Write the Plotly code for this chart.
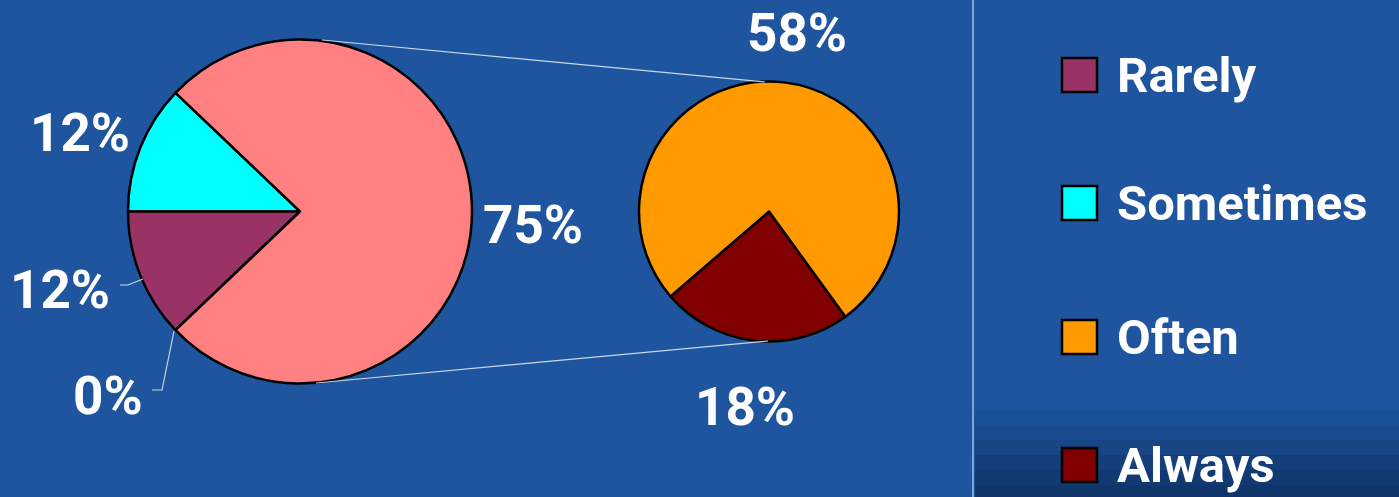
import plotly.graph_objects as go

# ---- data ----
main_labels = ["Sometimes", "Rarely", "", "Other"]
main_values = [12, 12, 0, 75]
main_colors = ["#00FFFF", "#993366", "#CCCCCC", "#FF8080"]

sub_labels = ["Always", "Often"]
sub_values = [18, 58]
sub_colors = ["#800000", "#FF9900"]

legend_labels = ["Rarely", "Sometimes", "Often", "Always"]
legend_colors = ["#993366", "#00FFFF", "#FF9900", "#800000"]

W, H = 1399, 497
BG = "#1e559e"

def px(x):
    return x / W

def py(y):
    return 1 - y / H

fig = go.Figure()

# main pie: center (300, 211.5), r 172
fig.add_trace(go.Pie(
    labels=main_labels, values=main_values, sort=False,
    direction="counterclockwise", rotation=-90,
    marker=dict(colors=main_colors, line=dict(color="black", width=2.5)),
    textinfo="none", hoverinfo="label+percent", showlegend=False,
    domain=dict(x=[px(128), px(472)], y=[py(383.5), py(39.5)]),
))

# secondary pie: center (769, 211.5), r 130
fig.add_trace(go.Pie(
    labels=sub_labels, values=sub_values, sort=False,
    direction="counterclockwise", rotation=-216,
    marker=dict(colors=sub_colors, line=dict(color="black", width=2.5)),
    textinfo="none", hoverinfo="label+percent", showlegend=False,
    domain=dict(x=[px(639), px(899)], y=[py(341.5), py(81.5)]),
))

shapes = []
line_col = "rgba(220,230,240,0.9)"
# darker band bottom-right (gradient steps)
for y0, y1, a in [(410, 425, 0.08), (425, 440, 0.16), (440, 455, 0.26),
                  (455, 470, 0.36), (470, 485, 0.45), (485, 497, 0.52)]:
    shapes.append(dict(type="rect", xref="paper", yref="paper", layer="below",
                       x0=px(975), y0=py(y1), x1=1, y1=py(y0),
                       fillcolor=f"rgba(3,25,60,{a})", line=dict(width=0)))
# connector lines
shapes.append(dict(type="line", xref="paper", yref="paper",
                   x0=px(322), y0=py(40), x1=px(765), y1=py(82),
                   line=dict(color=line_col, width=1.2)))
shapes.append(dict(type="line", xref="paper", yref="paper",
                   x0=px(316), y0=py(383), x1=px(768), y1=py(341),
                   line=dict(color=line_col, width=1.2)))
# leader lines
shapes.append(dict(type="path", xref="paper", yref="paper",
                   path=f"M {px(120)} {py(285)} L {px(128)} {py(285)} L {px(143)} {py(279)}",
                   line=dict(color=line_col, width=1.2)))
shapes.append(dict(type="path", xref="paper", yref="paper",
                   path=f"M {px(152)} {py(390)} L {px(162)} {py(390)} L {px(174)} {py(331)}",
                   line=dict(color=line_col, width=1.2)))
# separator line
shapes.append(dict(type="line", xref="paper", yref="paper",
                   x0=px(973), y0=0, x1=px(973), y1=1,
                   line=dict(color="rgba(200,215,235,0.8)", width=1.5)))

annotations = []
lab_font = dict(family="Roboto", size=53, color="white")

def pct(v):
    return f"<b>{v}%</b>"

# main pie labels: Sometimes, Rarely, blank, Other
main_pos = [(80, 133), (60, 290), (108, 396), (533, 225)]
for v, (x, y) in zip(main_values, main_pos):
    annotations.append(dict(text=pct(v), x=px(x), y=py(y), xref="paper", yref="paper",
                            showarrow=False, font=lab_font, xanchor="center", yanchor="middle"))
sub_pos = [(745, 407), (797, 33)]
for v, (x, y) in zip(sub_values, sub_pos):
    annotations.append(dict(text=pct(v), x=px(x), y=py(y), xref="paper", yref="paper",
                            showarrow=False, font=lab_font, xanchor="center", yanchor="middle"))

# legend
leg_y = [75, 203, 337, 465]
for lab, col, y in zip(legend_labels, legend_colors, leg_y):
    shapes.append(dict(type="rect", xref="paper", yref="paper",
                       x0=px(1062), x1=px(1097), y0=py(y - 17), y1=py(y + 17),
                       fillcolor=col, line=dict(color="black", width=2.5)))
    annotations.append(dict(text=f"<b>{lab}</b>", x=px(1115), y=py(y), xref="paper", yref="paper",
                            showarrow=False, xanchor="left", yanchor="middle",
                            font=dict(family="Roboto", size=49, color="white")))

fig.update_layout(
    width=W, height=H,
    margin=dict(l=0, r=0, t=0, b=0),
    paper_bgcolor=BG, plot_bgcolor=BG,
    shapes=shapes, annotations=annotations,
    showlegend=False,
)

fig.write_html("out.html", config={"displayModeBar": False},
               post_script="document.body.style.margin='0px';document.body.style.overflow='hidden';")
